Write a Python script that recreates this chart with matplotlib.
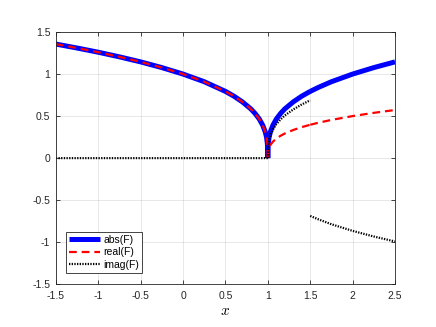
import numpy as np
import matplotlib
matplotlib.use("Agg")
import matplotlib.pyplot as plt

# x < 1 branch
x_left = [-1.5, -1.25, -1.0, -0.75, -0.5, -0.25, 0.0, 0.25, 0.5, 0.6, 0.7, 0.8,
          0.85, 0.9, 0.94, 0.97, 0.985, 0.995, 1.0]
abs_left = [1.357, 1.310, 1.260, 1.205, 1.145, 1.077, 1.000, 0.909, 0.794, 0.737,
            0.669, 0.585, 0.531, 0.464, 0.391, 0.311, 0.247, 0.171, 0.0]
real_left = abs_left
imag_left = [0.0] * len(x_left)

# 1 <= x <= 1.5 branch
x_mid = [1.0, 1.005, 1.015, 1.03, 1.06, 1.1, 1.15, 1.2, 1.3, 1.4, 1.5]
abs_mid = [0.0, 0.171, 0.247, 0.311, 0.391, 0.464, 0.531, 0.585, 0.669, 0.737, 0.794]
real_mid = [0.0, 0.0855, 0.1235, 0.1555, 0.1955, 0.232, 0.2655, 0.2925, 0.3345, 0.3685, 0.397]
imag_mid = [0.0, 0.148, 0.214, 0.269, 0.339, 0.402, 0.460, 0.507, 0.579, 0.638, 0.688]

# 1.5 <= x <= 2.5 branch
x_right = [1.5, 1.6, 1.75, 2.0, 2.25, 2.5]
abs_right = [0.794, 0.843, 0.909, 1.000, 1.077, 1.145]
real_right = [0.397, 0.4215, 0.4545, 0.5, 0.5385, 0.5725]
imag_right = [-0.688, -0.730, -0.787, -0.866, -0.933, -0.992]

xticks = [-1.5, -1, -0.5, 0, 0.5, 1, 1.5, 2, 2.5]
xticklabels = ["-1.5", "-1", "-0.5", "0", "0.5", "1", "1.5", "2", "2.5"]
yticks = [-1.5, -1, -0.5, 0, 0.5, 1, 1.5]
yticklabels = ["-1.5", "-1", "-0.5", "0", "0.5", "1", "1.5"]

plt.rcParams['font.family'] = ['Liberation Sans', 'DejaVu Sans']
plt.rcParams['mathtext.fontset'] = 'cm'

fig = plt.figure(figsize=(4.36, 3.27), dpi=100)
ax = fig.add_axes([0.128, 0.131, 0.778, 0.771])

nan = [np.nan]
xa = x_left + nan + x_mid + nan + x_right
ya = abs_left + nan + abs_mid + nan + abs_right
yr = real_left + nan + real_mid + nan + real_right
yi = imag_left + nan + imag_mid + nan + imag_right

ax.plot(xa, ya, color=(0, 0, 1), lw=3.6, label='abs(F)', solid_capstyle='butt')
ax.plot(xa, yr, color=(1, 0, 0), lw=1.6, ls=(0, (3.5, 2.2)), label='real(F)')
ax.plot(xa, yi, color='black', lw=1.6, ls=(0, (0.6, 0.6)), label='imag(F)')

ax.set_xlim(-1.5, 2.5)
ax.set_ylim(-1.5, 1.5)
ax.set_xticks(xticks)
ax.set_xticklabels(xticklabels)
ax.set_yticks(yticks)
ax.set_yticklabels(yticklabels)
ax.grid(True, color=(0.15, 0.15, 0.15), alpha=0.12, lw=0.6)
ax.tick_params(direction='in', length=3, width=0.6, labelsize=7.5,
               colors=(0.15, 0.15, 0.15), top=True, right=True)
ax.tick_params(axis='x', pad=5)
ax.tick_params(axis='y', pad=4)
for s in ax.spines.values():
    s.set_color((0.15, 0.15, 0.15))
    s.set_linewidth(0.6)
ax.set_xlabel('$x$', fontsize=11, labelpad=2)

leg = ax.legend(loc='lower left', bbox_to_anchor=(0.0295, 0.044), fontsize=7.5,
                frameon=True, fancybox=False, edgecolor=(0.15, 0.15, 0.15), framealpha=1,
                handlelength=3.0, handletextpad=0.3, borderpad=0.3,
                labelspacing=0.25, borderaxespad=0)
leg.get_frame().set_linewidth(0.6)

fig.savefig('out.png', dpi=100)
